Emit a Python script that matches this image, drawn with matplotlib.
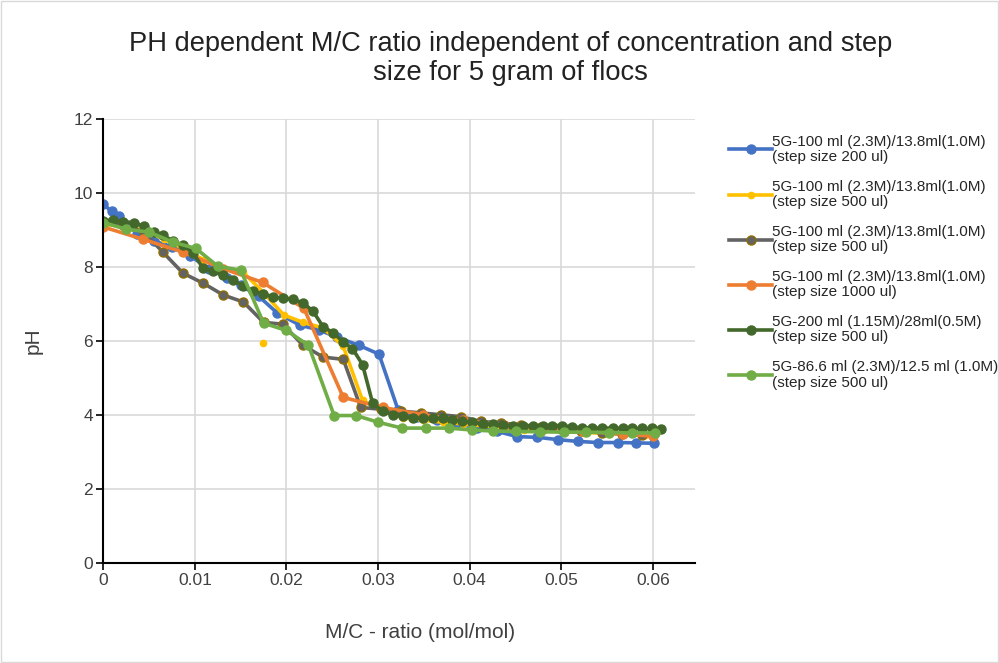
import numpy as np
import matplotlib
matplotlib.use('Agg')
import matplotlib.pyplot as plt
from matplotlib.patches import Rectangle

plt.rcParams['font.family'] = ['Liberation Sans', 'DejaVu Sans']

# --- titration series: M/C ratio (mol/mol) vs pH ---
labels = [
    "5G-100 ml (2.3M)/13.8ml(1.0M)\n(step size 200 ul)",
    "5G-100 ml (2.3M)/13.8ml(1.0M)\n(step size 500 ul)",
    "5G-100 ml (2.3M)/13.8ml(1.0M)\n(step size 500 ul)",
    "5G-100 ml (2.3M)/13.8ml(1.0M)\n(step size 1000 ul)",
    "5G-200 ml (1.15M)/28ml(0.5M)\n(step size 500 ul)",
    "5G-86.6 ml (2.3M)/12.5 ml (1.0M)\n(step size 500 ul)",
]

blue_x = [0, 0.0009, 0.0017, 0.0037, 0.0055, 0.0075, 0.0095, 0.0115, 0.0135, 0.0150,
          0.0170, 0.0190, 0.0215, 0.0235, 0.0255, 0.0279, 0.0301, 0.0322, 0.0342, 0.0364,
          0.0386, 0.0408, 0.0430, 0.0452, 0.0474, 0.0496, 0.0518, 0.0540, 0.0562, 0.0582, 0.0601]
blue_y = [9.7, 9.5, 9.38, 8.9, 8.7, 8.55, 8.3, 7.95, 7.7, 7.5,
          7.2, 6.75, 6.42, 6.3, 6.1, 5.88, 5.64, 4.12, 3.95, 3.85,
          3.75, 3.65, 3.55, 3.41, 3.39, 3.33, 3.28, 3.25, 3.25, 3.24, 3.23]

yellow_x = [0, 0.0022, 0.0044, 0.0066, 0.0087, 0.0109, 0.0131, 0.0153, 0.0175, 0.0197,
            0.0218, 0.0240, 0.0262, 0.0283, 0.0305, 0.0327, 0.0349, 0.0371, 0.0393, 0.0415,
            0.0437, 0.0459, 0.0481, 0.0503, 0.0525, 0.0547, 0.0569, 0.0591, np.nan, 0.0174]
yellow_y = [9.15, 9.1, 9.0, 8.75, 8.5, 8.2, 7.95, 7.85, 7.3, 6.7,
            6.5, 6.35, 5.85, 4.39, 4.1, 3.92, 3.85, 3.8, 3.75, 3.7,
            3.65, 3.6, 3.58, 3.55, 3.52, 3.5, 3.48, 3.45, np.nan, 5.93]

gray_x = [0, 0.0022, 0.0044, 0.0065, 0.0087, 0.0109, 0.0131, 0.0153, 0.0175, 0.0196,
          0.0218, 0.0240, 0.0262, 0.0281, 0.0303, 0.0325, 0.0347, 0.0369, 0.0390, 0.0412,
          0.0434, 0.0456, 0.0478, 0.0500, 0.0522, 0.0544, 0.0566, 0.0588]
gray_y = [9.2, 9.12, 8.95, 8.4, 7.83, 7.56, 7.24, 7.05, 6.5, 6.45,
          5.88, 5.56, 5.5, 4.2, 4.15, 4.1, 4.05, 4.0, 3.95, 3.82,
          3.78, 3.72, 3.68, 3.62, 3.56, 3.52, 3.48, 3.45]

orange_x = [0, 0.0043, 0.0087, 0.0131, 0.0174, 0.0219, 0.0262, 0.0305, 0.0349, 0.0393,
            0.0437, 0.0480, 0.0524, 0.0567, 0.0600]
orange_y = [9.08, 8.75, 8.4, 7.95, 7.58, 6.88, 4.47, 4.2, 4.0, 3.85,
            3.72, 3.62, 3.55, 3.48, 3.42]

dgreen_x = [0, 0.0011, 0.0022, 0.0033, 0.0044, 0.0055, 0.0065, 0.0076, 0.0087, 0.0098,
            0.0109, 0.0120, 0.0131, 0.0142, 0.0153, 0.0163, 0.0174, 0.0185, 0.0196, 0.0207,
            0.0218, 0.0229, 0.0240, 0.0251, 0.0262, 0.0272, 0.0283, 0.0294, 0.0305, 0.0316,
            0.0327, 0.0338, 0.0349, 0.0360, 0.0371, 0.0381, 0.0392, 0.0403, 0.0414, 0.0425,
            0.0436, 0.0447, 0.0458, 0.0469, 0.0480, 0.0490, 0.0501, 0.0512, 0.0523, 0.0534,
            0.0545, 0.0556, 0.0567, 0.0577, 0.0588, 0.0599, 0.0609]
dgreen_y = [9.25, 9.27, 9.22, 9.2, 9.1, 8.95, 8.86, 8.7, 8.59, 8.38,
            7.96, 7.9, 7.78, 7.64, 7.48, 7.35, 7.28, 7.19, 7.15, 7.12,
            7.03, 6.8, 6.38, 6.22, 5.97, 5.79, 5.36, 4.32, 4.1, 4.0,
            3.96, 3.92, 3.9, 3.9, 3.9, 3.87, 3.82, 3.8, 3.76, 3.74,
            3.72, 3.71, 3.71, 3.7, 3.71, 3.71, 3.71, 3.67, 3.65, 3.64,
            3.64, 3.64, 3.63, 3.63, 3.63, 3.63, 3.61]

lgreen_x = [0, 0.0025, 0.0050, 0.0076, 0.0101, 0.0125, 0.0150, 0.0175, 0.0200, 0.0224,
            0.0252, 0.0276, 0.0300, 0.0326, 0.0352, 0.0377, 0.0402, 0.0426, 0.0451, 0.0477,
            0.0503, 0.0527, 0.0552, 0.0577, 0.0602]
lgreen_y = [9.2, 9.02, 8.94, 8.67, 8.5, 8.02, 7.91, 6.48, 6.28, 5.88,
            3.98, 3.98, 3.8, 3.64, 3.64, 3.64, 3.59, 3.56, 3.55, 3.54,
            3.53, 3.53, 3.52, 3.51, 3.51]

series = [
    (blue_x, blue_y, '#4472C4', '#4472C4'),
    (yellow_x, yellow_y, '#FFC000', '#FFC000'),
    (gray_x, gray_y, '#636363', '#8C6D00'),
    (orange_x, orange_y, '#ED7D31', '#ED7D31'),
    (dgreen_x, dgreen_y, '#43682B', '#43682B'),
    (lgreen_x, lgreen_y, '#70AD47', '#70AD47'),
]

fig = plt.figure(figsize=(9.99, 6.63), dpi=100)
ax = fig.add_axes([0.1034, 0.1513, 0.5923, 0.6692])

for (xs, ys, col, edge), lab in zip(series, labels):
    ms = 6.5
    if col == '#FFC000':
        ms = 4.5
    ax.plot(xs, ys, color=col, lw=2.6, marker='o', markersize=ms,
            markerfacecolor=col, markeredgecolor=edge, markeredgewidth=1.0,
            label=lab, solid_joinstyle='round')

ax.set_xlim(0, 0.0646)
ax.set_ylim(0, 12)
ax.set_xticks([0, 0.01, 0.02, 0.03, 0.04, 0.05, 0.06])
ax.set_xticklabels(['0', '0.01', '0.02', '0.03', '0.04', '0.05', '0.06'])
ax.set_yticks(range(0, 13, 2))
ax.grid(True, color='#D9D9D9', linewidth=1.2)
ax.set_axisbelow(True)
for side in ['top', 'right']:
    ax.spines[side].set_visible(False)
for side in ['left', 'bottom']:
    ax.spines[side].set_linewidth(1.5)
    ax.spines[side].set_color('#000000')
ax.tick_params(direction='out', length=5, width=1.2, labelsize=12.5,
               labelcolor='#404040', pad=2.5)

ax.set_xlabel("M/C - ratio (mol/mol)", fontsize=15, color='#404040')
ax.xaxis.set_label_coords(0.535, -0.136)
ax.set_ylabel("pH", fontsize=15, color='#404040')
ax.yaxis.set_label_coords(-0.103, 0.5)

fig.text(0.511, 0.953, "PH dependent M/C ratio independent of concentration and step\n"
         "size for 5 gram of flocs", ha='center', va='top', fontsize=19.6,
         color='#222222', linespacing=1.12)

leg = ax.legend(loc='upper left', bbox_to_anchor=(0.724, 0.806),
                bbox_transform=fig.transFigure, frameon=False, fontsize=11,
                handlelength=2.8, handletextpad=0.0, labelspacing=1.05,
                borderaxespad=0)
for t in leg.get_texts():
    t.set_linespacing(1.1)
    t.set_color('#262626')

fig.patches.append(Rectangle((0.001, 0.001), 0.998, 0.997, transform=fig.transFigure,
                             fill=False, edgecolor='#D9D9D9', linewidth=1.0))

fig.savefig('out.png', dpi=100)
